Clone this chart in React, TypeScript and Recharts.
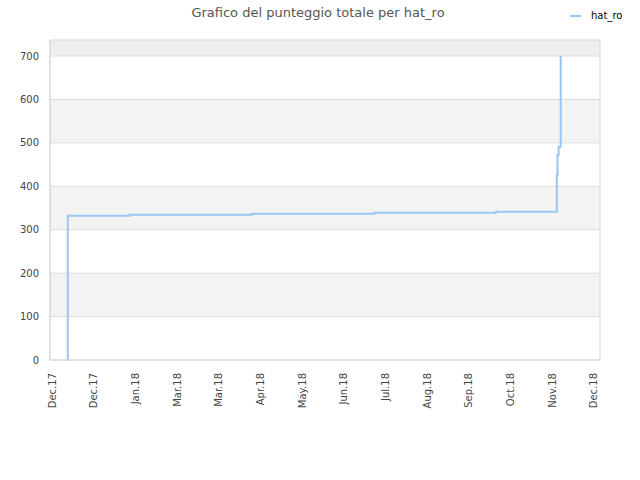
import { CartesianGrid, Line, LineChart, ReferenceArea, ReferenceLine, XAxis, YAxis } from "recharts";

// days counted from the first x tick (Dec.17)
const days = [12.7, 12.8, 57.6, 145.4, 233.3, 321.1, 364.9, 365.4, 366.2, 367.7];
const scores = [0, 332, 334.5, 337, 339, 341.5, 426, 472, 491, 700];

const monthLabels = ["Dec.17", "Dec.17", "Jan.18", "Mar.18", "Mar.18", "Apr.18", "May.18",
    "Jun.18", "Jul.18", "Aug.18", "Sep.18", "Oct.18", "Nov.18", "Dec.18"];
const monthTicks = monthLabels.map((_, i) => i * 30);

const scoreTicks = [0, 100, 200, 300, 400, 500, 600, 700];

const data = days.map((d, i) => ({ day: d, score: scores[i] }));

const LINE_COLOR = "#99c6f4";
const FONT = "'DejaVu Sans', sans-serif";

function MonthTick(props: any) {
    const { x, y, payload, index } = props;
    return <g transform={`translate(${x},${y})`}>
        <text transform="rotate(-90)" x={0} y={0} dy="0.55em" textAnchor="end"
            fontSize={10} fontFamily={FONT} fill="#444">
            {monthLabels[index] ?? payload.value}
        </text>
    </g>;
}

export default function App() {
    return <div style={{ position: "absolute", left: 0, top: 0, width: 640, height: 480 }}>
        <div style={{
            position: "absolute", left: 0, top: 6, width: 636, textAlign: "center",
            fontFamily: FONT, fontSize: 13, lineHeight: "13px", color: "#555"
        }}>
            Grafico del punteggio totale per hat_ro
        </div>
        {/* legend */}
        <div style={{
            position: "absolute", left: 570, top: 9, display: "flex", alignItems: "center",
            fontFamily: FONT, fontSize: 10, lineHeight: "14px", color: "#000"
        }}>
            <span style={{ display: "inline-block", width: 11, height: 2, background: LINE_COLOR, marginRight: 10 }} />
            <span>hat_ro</span>
        </div>
        <LineChart width={640} height={480} data={data}
            margin={{ top: 40, right: 40, left: 0, bottom: 0 }}>
            <CartesianGrid vertical={false} horizontal={false} fill="#fff" />
            {scoreTicks.slice(0, -1).map((t, i) => i % 2 === 1 ?
                <ReferenceArea key={t} y1={t} y2={scoreTicks[i + 1]} fill="#f3f3f3" fillOpacity={1} stroke="none" /> : null)}
            <ReferenceArea y1={700} y2={737} fill="#eeeeee" fillOpacity={1} stroke="none" />
            {scoreTicks.slice(1).map(t =>
                <ReferenceLine key={"g" + t} y={t} stroke="#dddddd" strokeWidth={1} />)}
            <XAxis dataKey="day" type="number" domain={[0, 396]} ticks={monthTicks}
                interval={0} tick={<MonthTick />} tickLine={false} tickMargin={7} height={120}
                axisLine={{ stroke: "#d6d6d6" }} />
            <YAxis type="number" domain={[0, 737]} ticks={scoreTicks} width={50}
                tickLine={false} tickMargin={5} axisLine={{ stroke: "#d6d6d6" }}
                tick={{ fontSize: 10, fontFamily: FONT, fill: "#444" }} />
            <ReferenceArea x1={0} x2={396} y1={0} y2={737} fill="none" stroke="#d6d6d6" />
            <Line type="stepAfter" dataKey="score" stroke={LINE_COLOR} strokeWidth={2}
                dot={false} activeDot={false} isAnimationActive={false} />
        </LineChart>
    </div>;
}
